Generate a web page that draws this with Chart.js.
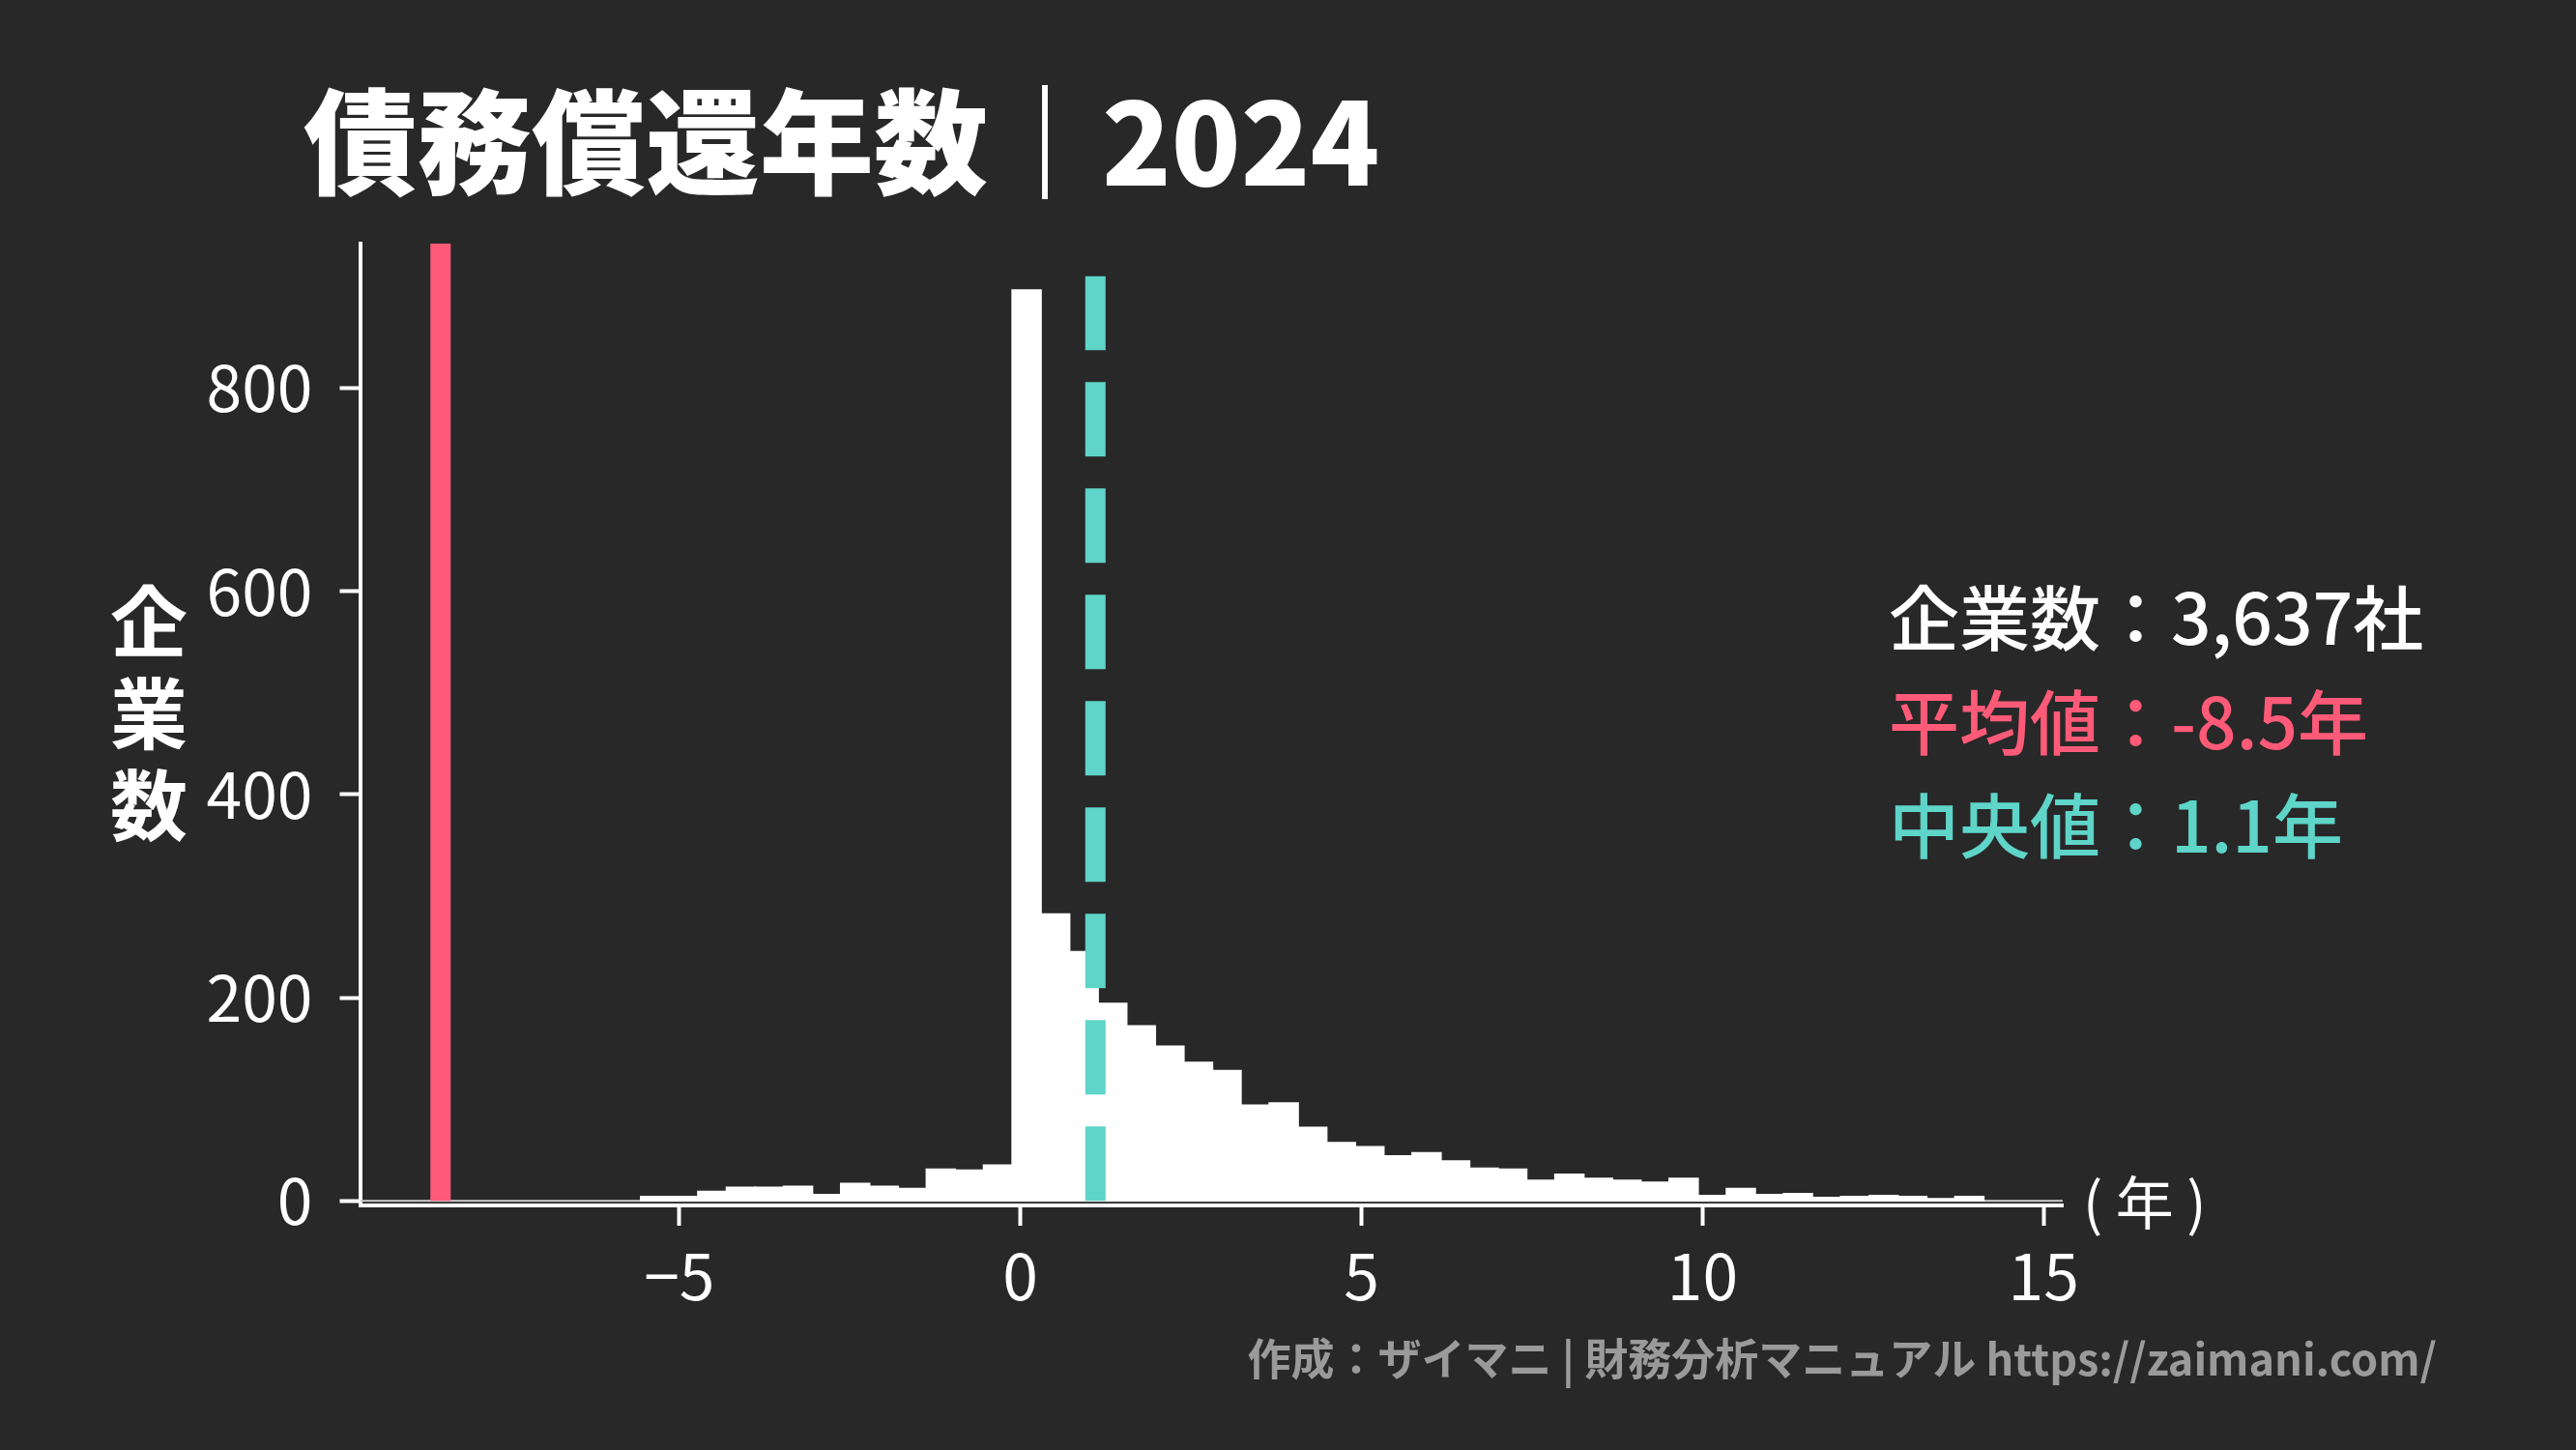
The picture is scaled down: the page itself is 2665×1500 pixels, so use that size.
<!DOCTYPE html>
<html lang="ja">
<head>
<meta charset="utf-8">
<title>債務償還年数｜2024</title>
<script src="https://cdn.jsdelivr.net/npm/chart.js@4.4.1/dist/chart.umd.min.js"></script>
<style>
  html, body { margin: 0; padding: 0; background: #282828; }
  canvas { display: block; }
</style>
</head>
<body>
<canvas id="debtChart" width="2665" height="1500"></canvas>
<script>
// histogram bins (centre of each bin, years)
const binCenters = [
  -5.354, -4.935, -4.516, -4.097, -3.678, -3.260, -2.841, -2.422, -2.003, -1.584,
  -1.166, -0.747, -0.328, 0.091, 0.510, 0.928, 1.347, 1.766, 2.185, 2.604,
  3.022, 3.441, 3.860, 4.279, 4.698, 5.116, 5.535, 5.954, 6.373, 6.792,
  7.210, 7.629, 8.048, 8.467, 8.886, 9.304, 9.723, 10.142, 10.561, 10.980,
  11.398, 11.817, 12.236, 12.655, 13.074, 13.492, 13.911
];
// number of companies in each bin
const binCounts = [
  4, 4, 9, 13, 13, 14, 6, 17, 14, 12,
  31, 30, 35, 896, 282, 245, 194, 172, 152, 136,
  128, 94, 96, 72, 57, 53, 44, 47, 39, 32,
  31, 20, 26, 22, 20, 18, 22, 5, 12, 6,
  7, 3, 4, 5, 4, 2, 4
];
const xTicks = [-5, 0, 5, 10, 15];
const yTicks = [0, 200, 400, 600, 800];

const companyCount = 3637;
const meanYears = -8.5;
const medianYears = 1.1;

const xMin = -9.68, xMax = 15.28;
const yMin = -4.5, yMax = 942;
const medianTop = 910;

const FONT = "'Noto Sans CJK JP', 'Noto Sans', sans-serif";
const BG = '#282828';
const RED = '#ff5a78';
const TEAL = '#5fd4c9';

// titles, stats box, axis label and footer
const textPlugin = {
  id: 'texts',
  beforeDraw(chart) {
    const ctx = chart.ctx;
    ctx.save();
    ctx.fillStyle = BG;
    ctx.fillRect(0, 0, chart.width, chart.height);
    ctx.restore();
  },
  afterDraw(chart) {
    const ctx = chart.ctx;
    ctx.save();
    ctx.textBaseline = 'alphabetic';
    ctx.textAlign = 'left';

    ctx.fillStyle = '#ffffff';
    ctx.font = '900 118px ' + FONT;
    ctx.fillText('債務償還年数｜2024', 314, 192);

    // y label, stacked vertically
    ctx.font = 'bold 80px ' + FONT;
    ctx.textAlign = 'center';
    ctx.textBaseline = 'middle';
    ['企', '業', '数'].forEach((ch, i) => ctx.fillText(ch, 154, 643 + i * 95));

    // unit label on the x axis
    ctx.textAlign = 'left';
    ctx.font = '60px ' + FONT;
    ctx.fillText('( 年 )', 2155, 1244);

    // stats
    ctx.textBaseline = 'alphabetic';
    ctx.font = '500 73px ' + FONT;
    ctx.fillStyle = '#ffffff';
    ctx.fillText('企業数：' + companyCount.toLocaleString('en-US') + '社', 1954, 667);
    ctx.fillStyle = RED;
    ctx.fillText('平均値：' + meanYears.toFixed(1) + '年', 1954, 775);
    ctx.fillStyle = TEAL;
    ctx.fillText('中央値：' + medianYears.toFixed(1) + '年', 1954, 882);

    // footer
    ctx.fillStyle = '#9a9a9a';
    ctx.font = 'bold 45px ' + FONT;
    ctx.textAlign = 'right';
    ctx.fillText('作成：ザイマニ | 財務分析マニュアル https://zaimani.com/', 2521, 1423);
    ctx.restore();
  }
};

const ctx = document.getElementById('debtChart').getContext('2d');
new Chart(ctx, {
  type: 'bar',
  data: {
    datasets: [
      {
        type: 'line',
        data: [{ x: xMin, y: 0 }, { x: xMax, y: 0 }],
        borderColor: '#cfcfcf',
        borderWidth: 2,
        pointRadius: 0,
        order: 3
      },
      {
        type: 'bar',
        data: binCenters.map((x, i) => ({ x: x, y: binCounts[i] })),
        backgroundColor: '#ffffff',
        borderWidth: 0,
        inflateAmount: 1,
        barPercentage: 1,
        categoryPercentage: 1,
        order: 2
      },
      {
        type: 'line',
        data: [{ x: meanYears, y: 0 }, { x: meanYears, y: yMax }],
        borderColor: RED,
        borderWidth: 21,
        borderCapStyle: 'butt',
        pointRadius: 0,
        order: 1
      },
      {
        type: 'line',
        data: [{ x: medianYears, y: 0 }, { x: medianYears, y: medianTop }],
        borderColor: TEAL,
        borderWidth: 21,
        borderDash: [77, 33],
        borderCapStyle: 'butt',
        pointRadius: 0,
        order: 0
      }
    ]
  },
  options: {
    responsive: false,
    devicePixelRatio: 1,
    animation: false,
    layout: { padding: { top: 252, right: 531, left: 0, bottom: 0 } },
    plugins: {
      legend: { display: false },
      tooltip: { enabled: false },
      title: { display: false }
    },
    scales: {
      x: {
        type: 'linear',
        offset: false,
        min: xMin,
        max: xMax,
        afterBuildTicks: s => { s.ticks = xTicks.map(v => ({ value: v })); },
        afterFit: s => { s.height = 253; },
        grid: { offset: false, drawOnChartArea: false, drawTicks: true, tickLength: 21, tickWidth: 4, tickColor: '#ffffff' },
        border: { display: true, color: '#ffffff', width: 4 },
        ticks: {
          color: '#ffffff',
          font: { family: FONT, size: 66 },
          padding: 12,
          maxRotation: 0,
          autoSkip: false,
          callback: v => (v < 0 ? '\u2212' + Math.abs(v) : String(v))
        }
      },
      y: {
        min: yMin,
        max: yMax,
        afterBuildTicks: s => { s.ticks = yTicks.map(v => ({ value: v })); },
        afterFit: s => { s.width = 372.5; },
        grid: { drawOnChartArea: false, drawTicks: true, tickLength: 21, tickWidth: 4, tickColor: '#ffffff' },
        border: { display: true, color: '#ffffff', width: 4 },
        ticks: {
          color: '#ffffff',
          font: { family: FONT, size: 66 },
          padding: 28,
          autoSkip: false
        }
      }
    }
  },
  plugins: [textPlugin]
});
</script>
</body>
</html>
